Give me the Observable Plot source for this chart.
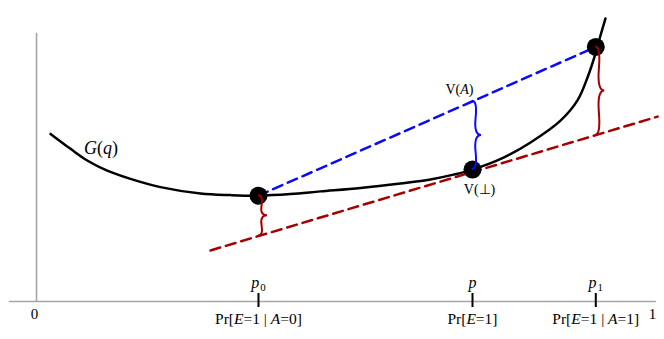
<!DOCTYPE html>
<html><head><meta charset="utf-8">
<script src="https://cdn.jsdelivr.net/npm/d3@7"></script>
<script src="https://cdn.jsdelivr.net/npm/@observablehq/plot@0.6"></script>
<style>body{margin:0;background:#fff}</style>
</head><body><div id="chart"></div>
<script>
// ---- data ----
// convex curve G(q)
const curveQ = [0.0227, 0.0550, 0.0820, 0.1144, 0.1521, 0.2006, 0.2654, 0.3139, 0.3592, 0.4110, 0.4595, 0.5243, 0.5890, 0.6375, 0.6748, 0.7055, 0.7557, 0.7994, 0.8479, 0.8754, 0.8916, 0.9045, 0.9126, 0.9207];
const curveG = [0.630, 0.574, 0.530, 0.492, 0.461, 0.430, 0.406, 0.400, 0.398, 0.404, 0.414, 0.427, 0.444, 0.459, 0.477, 0.496, 0.541, 0.598, 0.680, 0.756, 0.842, 0.932, 1.000, 1.064];
// marked points p0, p, p1 on the curve
const pointQ = [0.3592, 0.7055, 0.905];
const pointG = [0.398, 0.496, 0.957];
// tangent line at p (its two end points)
const tangentQ = [0.2816, 1.005];
const tangentY = [0.192, 0.695];
// labels
const tickTopLabels = ["*p*_0", "*p*", "*p*_1"];
const tickBottomLabels = ["Pr[*E*=1 | *A*=0]", "Pr[*E*=1]", "Pr[*E*=1 | *A*=1]"];
const axisEndQ = [0, 1];
const axisEndLabels = ["0", "1"];
const curveLabel = ["*G*(*q*)"];
const curveLabelQ = [0.1044];
const curveLabelY = [0.578];
const valueLabels = ["V(*A*)", "V(⊥)"];

// ---- derived ----
const tangentAt = q => tangentY[0] + (q - tangentQ[0]) * (tangentY[1] - tangentY[0]) / (tangentQ[1] - tangentQ[0]);
const chordAt = q => pointG[0] + (q - pointQ[0]) * (pointG[2] - pointG[0]) / (pointQ[2] - pointQ[0]);
const curveData = curveQ.map((q, i) => ({q, g: curveG[i]}));
const tangentData = tangentQ.map((q, i) => ({q, g: tangentY[i]}));
const chordData = [0, 2].map(i => ({q: pointQ[i], g: pointG[i]}));
const points = pointQ.map((q, i) => ({q, g: pointG[i], top: tickTopLabels[i], bottom: tickBottomLabels[i]}));
const redBraces = [0, 2].map(i => ({q: pointQ[i], a: pointG[i], b: tangentAt(pointQ[i])}));
const blueBraces = [1].map(i => ({q: pointQ[i], a: pointG[i], b: chordAt(pointQ[i])}));

const RED = "#a40000", BLUE = "#0a0aff", GRAY = "#a6a6a6";
const SERIF = "'Liberation Serif', 'Times New Roman', serif";

function bracePath(x1, y1, x2, y2, w, q) {
  let dx = x1 - x2, dy = y1 - y2;
  const len = Math.hypot(dx, dy); dx /= len; dy /= len;
  const qx1 = x1 + q*w*dy, qy1 = y1 - q*w*dx;
  const qx2 = (x1 - .25*len*dx) + (1-q)*w*dy, qy2 = (y1 - .25*len*dy) - (1-q)*w*dx;
  const tx1 = (x1 - .5*len*dx) + w*dy, ty1 = (y1 - .5*len*dy) - w*dx;
  const qx3 = x2 + q*w*dy, qy3 = y2 - q*w*dx;
  const qx4 = (x1 - .75*len*dx) + (1-q)*w*dy, qy4 = (y1 - .75*len*dy) - (1-q)*w*dx;
  return `M${x1},${y1}Q${qx1},${qy1} ${qx2},${qy2}T${tx1},${ty1}M${x2},${y2}Q${qx3},${qy3} ${qx4},${qy4}T${tx1},${ty1}`;
}
function braceMark(data, color) {
  return (index, scales) => {
    const g = d3.create("svg:g");
    for (const d of data) {
      const x = scales.x(d.q);
      const ya = scales.y(d.a), yb = scales.y(d.b);
      const lo = Math.max(ya, yb), hi = Math.min(ya, yb);
      g.append("path").attr("d", bracePath(x, lo, x, hi, 9, 0.6))
        .attr("fill", "none").attr("stroke", color).attr("stroke-width", 2);
    }
    return g.node();
  };
}

const chart = Plot.plot({
  width: 664, height: 339,
  marginLeft: 36, marginRight: 10, marginTop: 35, marginBottom: 38,
  x: {domain: [0, 1], axis: null},
  y: {domain: [0, 1], axis: null},
  style: {fontFamily: SERIF, fontSize: "15px", background: "white", color: "black", overflow: "visible"},
  marks: [
    Plot.ruleY([0], {x1: -0.044, x2: 1.003, stroke: GRAY, strokeWidth: 1.6}),
    Plot.ruleX([0], {y1: 0, y2: 1.008, stroke: GRAY, strokeWidth: 1.6}),
    Plot.ruleX(pointQ, {y1: 0, y2: 0, insetTop: -8, insetBottom: -6, stroke: "black", strokeWidth: 2}),
    Plot.line(curveData, {x: "q", y: "g", curve: "catmull-rom", stroke: "black", strokeWidth: 2.5}),
    Plot.line(tangentData, {x: "q", y: "g", stroke: RED, strokeWidth: 2.5, strokeDasharray: "10,6"}),
    Plot.line(chordData, {x: "q", y: "g", stroke: BLUE, strokeWidth: 2.5, strokeDasharray: "10,6"}),
    Plot.dot(points, {x: "q", y: "g", r: 9, fill: "black"}),
    braceMark(redBraces, RED),
    braceMark(blueBraces, BLUE),
    Plot.text(points, {x: "q", y: 0, text: "top", dy: -19, fontSize: 16}),
    Plot.text(points, {x: "q", y: 0, text: "bottom", dy: 18, fontSize: 15.5}),
    Plot.text(axisEndQ, {x: d => d, y: 0, text: (d, i) => axisEndLabels[i], dx: -2, dy: 13, fontSize: 15}),
    Plot.text(curveLabel, {x: (d, i) => curveLabelQ[i], y: (d, i) => curveLabelY[i], text: d => d, fontSize: 18}),
    Plot.text(blueBraces, {x: "q", y: "b", text: () => valueLabels[0], dx: -13, dy: -12, fontSize: 14}),
    Plot.text(blueBraces, {x: "q", y: "a", text: () => valueLabels[1], dx: 7, dy: 20, fontSize: 14})
  ]
});

// rich text: *x* italic, _x subscript
const NS = "http://www.w3.org/2000/svg";
chart.querySelectorAll("text").forEach(t => {
  const s = t.textContent;
  if (!/[*_]/.test(s)) return;
  t.textContent = "";
  for (const part of s.split(/(\*[^*]+\*|_.)/)) {
    if (!part) continue;
    const ts = document.createElementNS(NS, "tspan");
    if (part[0] === "*") { ts.setAttribute("font-style", "italic"); ts.textContent = part.slice(1, -1); }
    else if (part[0] === "_") { ts.setAttribute("font-size", "0.68em"); ts.setAttribute("dy", "0.35em"); ts.setAttribute("dx", "1"); ts.textContent = part.slice(1); }
    else ts.textContent = part;
    t.appendChild(ts);
  }
});
document.getElementById("chart").appendChild(chart);
</script>
</body></html>
